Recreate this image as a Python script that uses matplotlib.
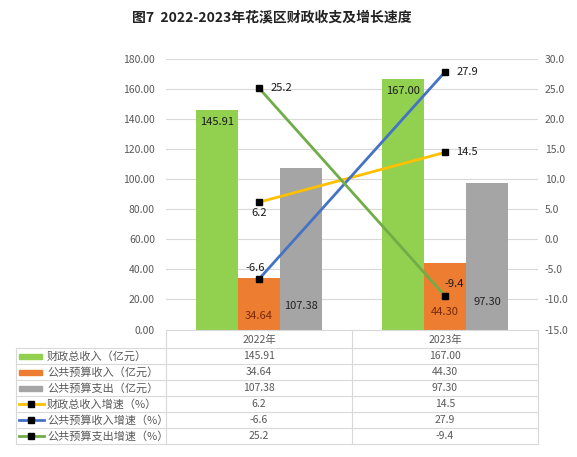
import matplotlib
matplotlib.use("Agg")
import matplotlib.pyplot as plt
from matplotlib.lines import Line2D
from matplotlib.patches import Rectangle

plt.rcParams["font.family"] = ["Noto Sans CJK SC", "DejaVu Sans"]

years = ["2022年", "2023年"]
bar_names = ["财政总收入（亿元）", "公共预算收入（亿元）", "公共预算支出（亿元）"]
total_rev = [145.91, 167.00]
budget_rev = [34.64, 44.30]
budget_exp = [107.38, 97.30]
line_names = ["财政总收入增速（%）", "公共预算收入增速（%）", "公共预算支出增速（%）"]
total_rev_growth = [6.2, 14.5]
budget_rev_growth = [-6.6, 27.9]
budget_exp_growth = [25.2, -9.4]

bar_colors = ["#92D050", "#ED7D31", "#A5A5A5"]
line_colors = ["#FFC000", "#4472C4", "#70AD47"]
tick_color = "#595959"
grid_color = "#D9D9D9"

W, H = 577, 457
fig = plt.figure(figsize=(W / 100, H / 100), dpi=100)
fig.patch.set_facecolor("white")

# plot area in pixels
L, R, T, B = 166, 538, 59.3, 329.5
ax = fig.add_axes([L / W, 1 - B / H, (R - L) / W, (B - T) / H])
ax2 = ax.twinx()

fig.text(272 / W, 1 - 17 / H, "图7  2022-2023年花溪区财政收支及增长速度",
         ha="center", va="center", fontsize=10, fontweight="bold", color="#222222")

x = [0, 1]
w = 0.2264
bar_series = [total_rev, budget_rev, budget_exp]
for i, vals in enumerate(bar_series):
    xs = [xi + (i - 1) * w for xi in x]
    ax.bar(xs, vals, width=w, color=bar_colors[i], zorder=2)

# bar data labels (offset from bar top or base, in points)
label_modes = [("end", [-8.5, -9]), ("base", [9.5, 12.5]), ("base", [17, 19.5])]
label_colors = ["#1a1a1a", "#7a2a0a", "#222222"]
for i, vals in enumerate(bar_series):
    mode, offs = label_modes[i]
    for j, v in enumerate(vals):
        xb = x[j] + (i - 1) * w
        yb = v if mode == "end" else 0
        ax.annotate(f"{v:.2f}", (xb, yb), xytext=(0, offs[j]), textcoords="offset points",
                    ha="center", va="center", fontsize=8, color=label_colors[i], zorder=5)

ax.set_xlim(-0.5, 1.5)
ax.set_ylim(0, 180)
ax.set_yticks(range(0, 181, 20))
ax.set_yticklabels([f"{v:.2f}" for v in range(0, 181, 20)])
ax.set_xticks([])
ax.grid(axis="y", color=grid_color, linewidth=0.8, zorder=0)
ax.set_axisbelow(True)
for s in ["top", "right", "left"]:
    ax.spines[s].set_visible(False)
ax.spines["bottom"].set_color(grid_color)
ax.tick_params(axis="y", length=0, pad=8, labelsize=7.5, labelcolor=tick_color)

line_series = [total_rev_growth, budget_rev_growth, budget_exp_growth]
for i, vals in enumerate(line_series):
    ax2.plot(x, vals, color=line_colors[i], linewidth=2, marker="s", markersize=4.5,
             markerfacecolor="black", markeredgecolor="black", zorder=4)

# line data labels: (dx, dy, ha) in points
line_label_pos = [
    [(0, -7.5, "center"), (8, 0, "left")],
    [(-3, 8, "center"), (8, 0, "left")],
    [(8, 0, "left"), (7, 8.5, "center")],
]
for i, vals in enumerate(line_series):
    for j, v in enumerate(vals):
        dx, dy, ha = line_label_pos[i][j]
        ax2.annotate(f"{v:.1f}", (x[j], v), xytext=(dx, dy), textcoords="offset points",
                     ha=ha, va="center", fontsize=8, color="#1a1a1a", zorder=6)

ax2.set_ylim(-15, 30)
ax2.set_yticks(range(-15, 31, 5))
ax2.set_yticklabels([f"{v:.1f}" for v in range(-15, 31, 5)])
for s in ["top", "right", "left", "bottom"]:
    ax2.spines[s].set_visible(False)
ax2.tick_params(axis="y", length=0, pad=5, labelsize=7.5, labelcolor=tick_color)

# data table under the chart, drawn in pixel coordinates
tb = fig.add_axes([0, 0, 1, 1], zorder=3)
tb.set_xlim(0, W)
tb.set_ylim(H, 0)
tb.axis("off")
tb.patch.set_alpha(0)

TL, TM = 15.7, (L + R) / 2
top, hdr = 331, 348.3
rh = 16
nrows = 6
bottom = hdr + nrows * rh
lc = dict(color=grid_color, linewidth=0.8)
tb.plot([L, L], [top, bottom], **lc)
tb.plot([TM, TM], [top, bottom], **lc)
tb.plot([R, R], [top, bottom], **lc)
tb.plot([TL, TL], [hdr, bottom], **lc)
for k in range(nrows + 1):
    yy = hdr + k * rh
    tb.plot([TL, R], [yy, yy], **lc)

col_centers = [(L + TM) / 2, (TM + R) / 2]
for j, yr in enumerate(years):
    tb.text(col_centers[j], (top + hdr) / 2 + 0.5, yr, ha="center", va="center",
            fontsize=7.5, color=tick_color)

row_names = bar_names + line_names
row_vals = [[f"{v:.2f}" for v in s] for s in bar_series] + \
           [[f"{v:.1f}" for v in s] for s in line_series]
for k in range(nrows):
    yc = hdr + k * rh + rh / 2
    if k < 3:
        tb.add_patch(Rectangle((19, yc - 2.5), 22.5, 5, color=bar_colors[k]))
    else:
        c = line_colors[k - 3]
        tb.add_line(Line2D([18.5, 44], [yc, yc], color=c, linewidth=2))
        tb.add_line(Line2D([31.2], [yc], marker="s", markersize=4.5, color="black"))
    tb.text(47, yc, row_names[k], ha="left", va="center", fontsize=8, color=tick_color)
    for j in range(2):
        tb.text(col_centers[j], yc, row_vals[k][j], ha="center", va="center",
                fontsize=7.5, color=tick_color)

plt.savefig("out.png", dpi=100, facecolor="white")
